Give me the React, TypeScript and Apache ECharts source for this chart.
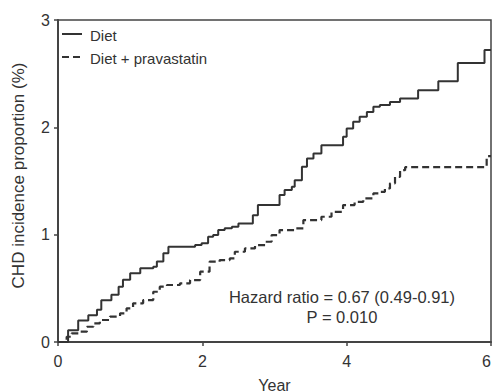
import React, { useEffect, useRef } from "react";
import * as echarts from "echarts";

const dietYears = [0, 0.14, 0.28, 0.42, 0.54, 0.6, 0.74, 0.84, 0.9, 1.0, 1.14, 1.32, 1.37, 1.46, 1.53, 1.9, 1.99, 2.08, 2.15, 2.22, 2.31, 2.41, 2.5, 2.7, 2.77, 3.07, 3.14, 3.24, 3.28, 3.38, 3.45, 3.54, 3.65, 3.95, 4.0, 4.09, 4.18, 4.28, 4.37, 4.46, 4.6, 4.74, 4.99, 5.27, 5.54, 5.91, 6.0];
const dietValues = [0, 0.11, 0.2, 0.25, 0.3, 0.39, 0.44, 0.515, 0.58, 0.64, 0.686, 0.7, 0.75, 0.826, 0.887, 0.903, 0.92, 0.98, 0.996, 1.043, 1.06, 1.074, 1.105, 1.182, 1.276, 1.369, 1.415, 1.446, 1.508, 1.632, 1.71, 1.757, 1.834, 1.912, 1.99, 2.051, 2.098, 2.144, 2.191, 2.207, 2.237, 2.269, 2.346, 2.43, 2.6, 2.72, 2.72];

const pravaYears = [0, 0.12, 0.19, 0.3, 0.4, 0.49, 0.58, 0.72, 0.86, 0.95, 1.04, 1.18, 1.32, 1.41, 1.51, 1.69, 1.83, 1.97, 2.1, 2.24, 2.38, 2.45, 2.59, 2.73, 2.87, 2.96, 3.07, 3.28, 3.4, 3.65, 3.79, 3.95, 4.11, 4.23, 4.37, 4.46, 4.53, 4.6, 4.67, 4.74, 4.81, 5.94, 6.0];
const pravaValues = [0, 0.049, 0.081, 0.096, 0.142, 0.174, 0.205, 0.236, 0.267, 0.314, 0.36, 0.391, 0.468, 0.515, 0.531, 0.547, 0.577, 0.655, 0.748, 0.763, 0.779, 0.841, 0.872, 0.903, 0.934, 0.996, 1.043, 1.059, 1.136, 1.167, 1.213, 1.276, 1.306, 1.338, 1.385, 1.399, 1.431, 1.478, 1.539, 1.601, 1.629, 1.732, 1.732];

const seriesNames = ["Diet", "Diet + pravastatin"];
const xTicks = { min: 0, max: 6, interval: 2 };
const yTicks = { min: 0, max: 3, interval: 1 };
const annotationLines = ["Hazard ratio = 0.67 (0.49-0.91)", "P = 0.010"];

const FONT = "'Liberation Sans', Arial, sans-serif";
const INK = "#333";
const LINE = "#333";
const DASH = [7, 4];

export default function App() {
  const ref = useRef<HTMLDivElement>(null);
  useEffect(() => {
    if (!ref.current) return;
    const chart = echarts.init(ref.current, undefined, { renderer: "svg" });
    const zip = (xs: number[], ys: number[]) => xs.map((x, i) => [x, ys[i]]);
    chart.setOption({
      animation: false,
      backgroundColor: "#fff",
      textStyle: { fontFamily: FONT },
      grid: {
        left: 58,
        right: 2,
        top: 20,
        bottom: 50,
        outerBoundsMode: "none",
        containLabel: false,
        show: true,
        borderColor: "#444",
        borderWidth: 1.5,
      },
      xAxis: {
        type: "value",
        min: xTicks.min,
        max: xTicks.max,
        interval: xTicks.interval,
        name: "Year",
        nameLocation: "middle",
        nameGap: 35,
        nameTextStyle: { fontFamily: FONT, fontSize: 16, color: INK },
        axisLine: { show: true, lineStyle: { color: "#444", width: 2 } },
        axisTick: { show: true, length: 4, lineStyle: { color: "#444", width: 1.5 } },
        axisLabel: { fontFamily: FONT, fontSize: 16, color: INK, margin: 11, alignMaxLabel: "right" },
        splitLine: { show: false },
      },
      yAxis: {
        type: "value",
        min: yTicks.min,
        max: yTicks.max,
        interval: yTicks.interval,
        name: "CHD incidence proportion (%)",
        nameLocation: "middle",
        nameGap: 31,
        nameTextStyle: { fontFamily: FONT, fontSize: 17, color: INK, padding: [0, 0, 0, 11] },
        axisLine: { show: true, lineStyle: { color: "#444", width: 2 } },
        axisTick: { show: true, length: 4, lineStyle: { color: "#444", width: 1.5 } },
        axisLabel: { fontFamily: FONT, fontSize: 16, color: INK, margin: 8 },
        splitLine: { show: false },
      },
      series: [
        {
          name: seriesNames[0],
          type: "line",
          step: "end",
          showSymbol: false,
          symbol: "none",
          data: zip(dietYears, dietValues),
          lineStyle: { color: LINE, width: 2 },
          itemStyle: { color: LINE },
        },
        {
          name: seriesNames[1],
          type: "line",
          step: "end",
          showSymbol: false,
          symbol: "none",
          data: zip(pravaYears, pravaValues),
          lineStyle: { color: LINE, width: 2.2, type: DASH },
          itemStyle: { color: LINE },
        },
      ],
      graphic: [
        {
          type: "line",
          shape: { x1: 62, y1: 34, x2: 82, y2: 34 },
          style: { stroke: LINE, lineWidth: 2 },
        },
        {
          type: "text",
          x: 90,
          y: 35,
          style: {
            text: seriesNames[0],
            font: `15px ${FONT}`,
            fill: INK,
            verticalAlign: "middle",
          },
        },
        {
          type: "line",
          shape: { x1: 62, y1: 57, x2: 82, y2: 57 },
          style: { stroke: LINE, lineWidth: 2.2, lineDash: DASH },
        },
        {
          type: "text",
          x: 90,
          y: 58,
          style: {
            text: seriesNames[1],
            font: `15px ${FONT}`,
            fill: INK,
            verticalAlign: "middle",
          },
        },
        {
          type: "text",
          x: 342,
          y: 297,
          style: {
            text: annotationLines[0],
            font: `16.5px ${FONT}`,
            fill: INK,
            align: "center",
            verticalAlign: "middle",
          },
        },
        {
          type: "text",
          x: 342,
          y: 317,
          style: {
            text: annotationLines[1],
            font: `16.5px ${FONT}`,
            fill: INK,
            align: "center",
            verticalAlign: "middle",
          },
        },
      ],
    });
    return () => chart.dispose();
  }, []);
  return (
    <div
      ref={ref}
      style={{ position: "fixed", left: 0, top: 0, width: 493, height: 392 }}
    />
  );
}
